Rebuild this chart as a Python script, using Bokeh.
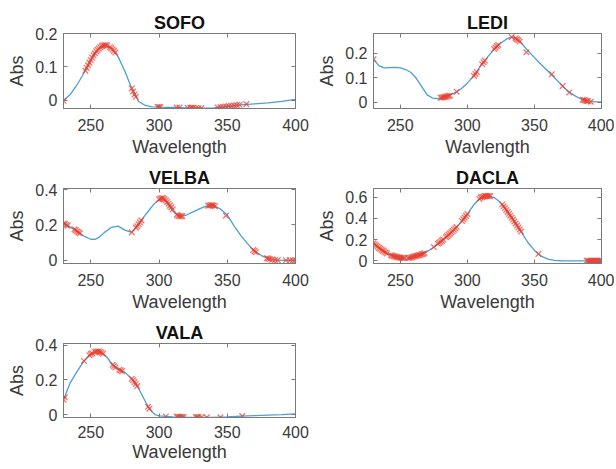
from bokeh.plotting import figure
from bokeh.models import LinearAxis, FixedTicker, CustomJSTickFormatter, Range1d
from bokeh.layouts import gridplot
from bokeh.embed import file_html
from bokeh.resources import INLINE

# ---------------- data ----------------
x_ticks = [250, 300, 350, 400]

sofo_wl = [230, 235, 240, 245, 250, 255, 260, 265, 270, 275, 280, 285, 290, 295, 300,
           310, 320, 330, 340, 350, 360, 370, 380, 390, 400]
sofo_abs = [0.0, 0.018, 0.047, 0.082, 0.121, 0.151, 0.165, 0.156, 0.131, 0.087, 0.036,
            -0.003, -0.015, -0.019, -0.020, -0.021, -0.022, -0.023, -0.022, -0.018,
            -0.013, -0.010, -0.007, -0.003, 0.003]
sofo_mk_wl = [230, 246, 247, 248, 249, 250, 251, 252, 253, 254, 255, 256, 257, 258, 259,
              260, 261, 262, 264, 265, 266, 267, 268, 280, 281, 282, 283, 299, 300, 301,
              313, 315, 321, 323, 324, 325, 327, 329, 331, 343, 345, 347, 349, 351, 353,
              355, 357, 359, 364]
sofo_mk_abs = [-0.001, 0.089, 0.097, 0.105, 0.113, 0.121, 0.128, 0.135, 0.141, 0.147,
               0.151, 0.155, 0.159, 0.162, 0.164, 0.165, 0.165, 0.164, 0.159, 0.156,
               0.152, 0.148, 0.143, 0.036, 0.027, 0.018, 0.011, -0.020, -0.020, -0.020,
               -0.021, -0.021, -0.022, -0.022, -0.022, -0.022, -0.023, -0.023, -0.023,
               -0.021, -0.020, -0.019, -0.018, -0.017, -0.016, -0.015, -0.014, -0.013,
               -0.011]
sofo_yticks = [0, 0.1, 0.2]

ledi_wl = [230, 234, 238, 242, 246, 250, 254, 258, 262, 266, 270, 274, 278, 282, 286,
           290, 295, 300, 305, 310, 315, 320, 325, 330, 333, 336, 340, 345, 350, 355,
           360, 365, 370, 375, 380, 385, 390, 395, 400]
ledi_abs = [0.176, 0.150, 0.141, 0.142, 0.143, 0.141, 0.134, 0.122, 0.097, 0.064, 0.030,
            0.017, 0.015, 0.020, 0.028, 0.036, 0.053, 0.078, 0.110, 0.150, 0.185, 0.218,
            0.243, 0.262, 0.267, 0.261, 0.245, 0.212, 0.183, 0.155, 0.128, 0.100, 0.072,
            0.045, 0.027, 0.012, 0.005, 0.001, 0.001]
ledi_mk_wl = [230, 280, 281, 282, 283, 284, 285, 286, 287, 292, 305, 306, 307, 311, 312,
              313, 320, 321, 322, 323, 333, 336, 337, 338, 339, 344, 363, 371, 376, 386,
              387, 388, 389, 390, 392]
ledi_mk_abs = [0.176, 0.018, 0.019, 0.020, 0.021, 0.022, 0.024, 0.025, 0.027, 0.043,
               0.108, 0.116, 0.124, 0.156, 0.164, 0.171, 0.218, 0.224, 0.230, 0.235,
               0.267, 0.262, 0.258, 0.254, 0.249, 0.205, 0.115, 0.066, 0.040, 0.010,
               0.008, 0.007, 0.005, 0.004, 0.002]
ledi_yticks = [0, 0.1, 0.2]

velba_wl = [230, 235, 240, 245, 250, 253, 256, 260, 265, 270, 275, 280, 284, 288, 292,
            296, 300, 303, 306, 310, 314, 317, 320, 325, 330, 335, 340, 345, 350, 355,
            360, 365, 370, 375, 380, 385, 390, 395, 400]
velba_abs = [0.208, 0.188, 0.163, 0.137, 0.119, 0.118, 0.130, 0.158, 0.186, 0.193,
             0.171, 0.158, 0.193, 0.237, 0.276, 0.316, 0.344, 0.350, 0.322, 0.280,
             0.252, 0.250, 0.256, 0.274, 0.292, 0.308, 0.311, 0.290, 0.256, 0.195,
             0.140, 0.093, 0.052, 0.027, 0.010, 0.002, 0.0, 0.0, 0.0]
velba_mk_wl = [230, 231, 232, 233, 238, 239, 240, 241, 242, 280, 283, 284, 285, 286, 287,
               300, 301, 302, 303, 304, 305, 306, 307, 308, 309, 310, 313, 314, 315, 316,
               317, 336, 337, 338, 339, 340, 341, 349, 369, 370, 371, 379, 380, 381, 383,
               385, 387, 393, 396, 398, 400]
velba_mk_abs = [0.208, 0.205, 0.200, 0.196, 0.175, 0.170, 0.163, 0.158, 0.153, 0.158,
                0.185, 0.193, 0.204, 0.215, 0.226, 0.344, 0.349, 0.351, 0.350, 0.345,
                0.338, 0.330, 0.320, 0.309, 0.300, 0.288, 0.258, 0.252, 0.250, 0.249,
                0.250, 0.309, 0.310, 0.311, 0.311, 0.310, 0.306, 0.252, 0.058, 0.052,
                0.046, 0.012, 0.010, 0.007, 0.004, 0.002, 0.001, 0.0, 0.0, 0.0, 0.0]
velba_yticks = [0, 0.2, 0.4]

dacla_wl = [230, 235, 240, 245, 250, 255, 260, 265, 270, 275, 280, 285, 290, 295, 300,
            305, 310, 313, 316, 320, 325, 330, 335, 340, 345, 350, 355, 360, 365, 370,
            380, 390, 400]
dacla_abs = [0.165, 0.113, 0.070, 0.044, 0.029, 0.025, 0.040, 0.058, 0.085, 0.130,
             0.180, 0.232, 0.292, 0.360, 0.440, 0.530, 0.595, 0.608, 0.610, 0.595,
             0.545, 0.460, 0.370, 0.275, 0.175, 0.098, 0.045, 0.017, 0.005, 0.001,
             0.0, 0.0, 0.0]
dacla_mk_wl = [230, 231, 232, 233, 234, 235, 236, 237, 238, 239, 240,
               243, 244, 245, 246, 247, 248, 249, 250, 251, 252, 253,
               256, 257, 258, 259, 260, 261, 262, 263, 264, 265, 266, 267, 268,
               275, 278, 279, 280, 281, 282,
               284, 285, 286, 287, 288, 289, 290, 291, 292,
               296, 297, 298, 299, 300,
               309, 310, 311, 312, 313, 314, 315, 316, 317,
               326, 327, 328, 329, 330, 331, 332, 333, 334, 335, 336, 337, 338, 339, 340,
               353,
               389, 390, 391, 392, 393, 394, 395, 396, 397, 398, 399, 400]
dacla_mk_abs = [0.165, 0.154, 0.144, 0.134, 0.122, 0.113, 0.104, 0.096, 0.087, 0.079, 0.070,
                0.053, 0.048, 0.044, 0.040, 0.037, 0.034, 0.031, 0.029, 0.028, 0.027, 0.026,
                0.026, 0.029, 0.032, 0.036, 0.040, 0.043, 0.047, 0.050, 0.054, 0.058, 0.062,
                0.067, 0.072,
                0.130, 0.160, 0.170, 0.180, 0.190, 0.200,
                0.222, 0.232, 0.244, 0.256, 0.268, 0.280, 0.292, 0.305, 0.318,
                0.374, 0.390, 0.406, 0.423, 0.440,
                0.582, 0.595, 0.600, 0.604, 0.608, 0.609, 0.610, 0.610, 0.608,
                0.530, 0.513, 0.496, 0.478, 0.460, 0.442, 0.424, 0.406, 0.388, 0.370,
                0.351, 0.332, 0.313, 0.294, 0.275,
                0.065,
                0.0, 0.0, 0.0, 0.0, 0.0, 0.0, 0.0, 0.0, 0.0, 0.0, 0.0, 0.0]
dacla_yticks = [0, 0.2, 0.4, 0.6]

vala_wl = [230, 235, 240, 245, 250, 253, 256, 259, 262, 266, 270, 275, 280, 285, 288,
           291, 294, 297, 300, 305, 310, 320, 330, 340, 350, 360, 370, 380, 390, 400]
vala_abs = [0.086, 0.185, 0.250, 0.310, 0.350, 0.362, 0.365, 0.352, 0.330, 0.288, 0.263,
            0.244, 0.207, 0.151, 0.106, 0.060, 0.022, 0.000, -0.008, -0.011, -0.013,
            -0.015, -0.016, -0.017, -0.014, -0.009, -0.006, -0.003, 0.0, 0.004]
vala_mk_wl = [230, 231, 245, 249, 250, 251, 253, 254, 255, 256, 257, 258, 259, 266, 267,
              268, 271, 272, 273, 280, 281, 282, 283, 284, 292, 293, 305, 313, 314, 315,
              316, 317, 318, 327, 328, 329, 331, 335, 345, 361]
vala_mk_abs = [0.086, 0.100, 0.310, 0.343, 0.350, 0.354, 0.362, 0.364, 0.365, 0.365,
               0.362, 0.358, 0.352, 0.288, 0.280, 0.272, 0.259, 0.255, 0.251, 0.207,
               0.198, 0.188, 0.177, 0.165, 0.045, 0.034, -0.011, -0.013, -0.013, -0.014,
               -0.014, -0.014, -0.014, -0.015, -0.015, -0.015, -0.016, -0.016, -0.016,
               -0.009]
vala_yticks = [0, 0.2, 0.4]

# ---------------- styling ----------------
FONT = "Liberation Sans"
FRAME = "#7a7a7a"
TXT = "#3a3a3a"
LINE_C = "#4a9fda"
MARK_C = "#ec3a2a"


def panel(title, wl, ab, mk_wl, mk_ab, y_lo, y_hi, yticks, xlabel,
          w, h, b_left, b_right, b_top, b_bottom, tick_so, lab_so):
    p = figure(width=w, height=h, output_backend="svg",
               toolbar_location=None, x_range=Range1d(230, 400),
               y_range=Range1d(y_lo, y_hi),
               min_border_left=b_left, min_border_right=b_right,
               min_border_top=b_top, min_border_bottom=b_bottom)
    p.title.text = title
    p.title.align = "center"
    p.title.text_font = FONT
    p.title.text_font_size = "18px"
    p.title.text_font_style = "bold"
    p.title.text_color = "#111111"
    p.title.standoff = 1
    p.outline_line_color = FRAME
    p.outline_line_width = 1
    p.xgrid.visible = False
    p.ygrid.visible = False
    p.background_fill_color = "white"
    p.border_fill_color = "white"

    p.line(wl, ab, line_color=LINE_C, line_width=1.3)
    p.scatter(mk_wl, mk_ab, marker="x", size=8, line_color=MARK_C,
              line_width=1.3, line_alpha=0.7)

    for ax in (p.xaxis[0], p.yaxis[0]):
        ax.axis_line_color = FRAME
        ax.major_tick_line_color = FRAME
        ax.major_tick_in = 4
        ax.major_tick_out = 0
        ax.minor_tick_line_color = None
        ax.major_label_text_font = FONT
        ax.major_label_text_font_size = "16px"
        ax.major_label_text_color = TXT
        ax.axis_label_text_font = FONT
        ax.axis_label_text_font_size = "18px"
        ax.axis_label_text_font_style = "normal"
        ax.axis_label_text_color = TXT
    p.xaxis[0].ticker = FixedTicker(ticks=x_ticks)
    p.yaxis[0].ticker = FixedTicker(ticks=yticks)
    p.yaxis[0].major_label_overrides = {0: "0"}
    p.xaxis[0].axis_label = xlabel
    p.yaxis[0].axis_label = "Abs"
    p.xaxis[0].major_label_standoff = tick_so
    p.xaxis[0].axis_label_standoff = lab_so
    p.yaxis[0].major_label_standoff = 6
    p.yaxis[0].axis_label_standoff = 5

    blank = CustomJSTickFormatter(code="return ''")
    right = LinearAxis(ticker=FixedTicker(ticks=yticks), formatter=blank)
    top = LinearAxis(ticker=FixedTicker(ticks=x_ticks), formatter=blank)
    for ax in (right, top):
        ax.axis_line_color = FRAME
        ax.major_tick_line_color = FRAME
        ax.major_tick_in = 4
        ax.major_tick_out = 0
        ax.minor_tick_line_color = None
        ax.major_label_text_font_size = "1px"
        ax.major_label_standoff = 0
        ax.axis_label_standoff = 0
    p.add_layout(right, "right")
    p.add_layout(top, "above")
    return p


# left column figures 314 wide, right column 300 wide (total 614)
p1 = panel("SOFO", sofo_wl, sofo_abs, sofo_mk_wl, sofo_mk_abs, -0.024, 0.2,
           sofo_yticks, "Wavelength", 314, 163, 63, 19, 33, 55, 10, 3)
p2 = panel("LEDI", ledi_wl, ledi_abs, ledi_mk_wl, ledi_mk_abs, -0.026, 0.282,
           ledi_yticks, "Wavlength", 300, 163, 55, 13, 33, 55, 10, 3)
p3 = panel("VELBA", velba_wl, velba_abs, velba_mk_wl, velba_mk_abs, -0.018, 0.406,
           velba_yticks, "Wavelength", 314, 155, 63, 19, 25, 55, 10, 3)
p4 = panel("DACLA", dacla_wl, dacla_abs, dacla_mk_wl, dacla_mk_abs, -0.025, 0.68,
           dacla_yticks, "Wavelength", 300, 155, 55, 13, 25, 55, 10, 3)
p5 = panel("VALA", vala_wl, vala_abs, vala_mk_wl, vala_mk_abs, -0.017, 0.411,
           vala_yticks, "Wavelength", 314, 146, 63, 19, 25, 46, 8, 1)

grid = gridplot([[p1, p2], [p3, p4], [p5, None]], toolbar_location=None)

open("out.html", "w").write(file_html(grid, INLINE))
